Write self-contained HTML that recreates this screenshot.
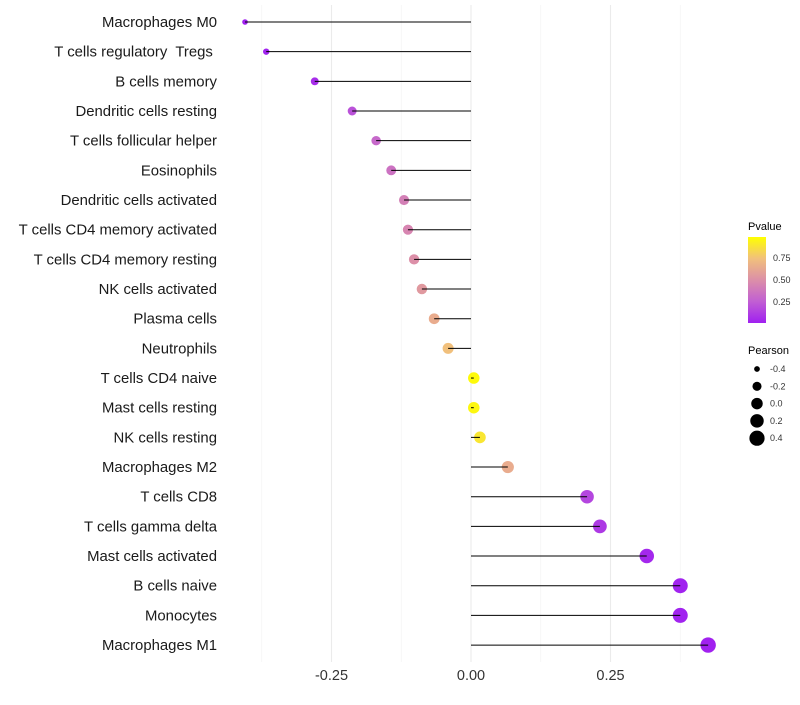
<!DOCTYPE html>
<html><head><meta charset="utf-8"><style>
body{margin:0;background:#fff;font-family:"Liberation Sans",sans-serif}
svg text{font-family:"Liberation Sans",sans-serif;white-space:pre}
</style></head><body>
<svg id="chart" width="800" height="700">
<defs><linearGradient id="pg" x1="0" y1="1" x2="0" y2="0">
<stop offset="0" stop-color="#A020F0"/><stop offset="0.25" stop-color="#C15FD3"/><stop offset="0.5" stop-color="#DC8FA8"/><stop offset="0.75" stop-color="#F1C07C"/><stop offset="1" stop-color="#FFFF00"/></linearGradient></defs>
<g id="grid"></g><g id="marks"></g><g id="labels"></g>
<g>
<text x="748" y="230" font-size="11">Pvalue</text>
<rect x="748" y="237" width="18" height="86" fill="url(#pg)"/>
<text x="773" y="261" font-size="9" fill="#333">0.75</text>
<text x="773" y="283" font-size="9" fill="#333">0.50</text>
<text x="773" y="305" font-size="9" fill="#333">0.25</text>
</g>
<g id="sizeleg">
<text x="748" y="354" font-size="11">Pearson</text>
</g>
</svg>
<script>
const categories=["Macrophages M0","T cells regulatory  Tregs ","B cells memory","Dendritic cells resting","T cells follicular helper","Eosinophils","Dendritic cells activated","T cells CD4 memory activated","T cells CD4 memory resting","NK cells activated","Plasma cells","Neutrophils","T cells CD4 naive","Mast cells resting","NK cells resting","Macrophages M2","T cells CD8","T cells gamma delta","Mast cells activated","B cells naive","Monocytes","Macrophages M1"];
const pearson=[-0.405,-0.367,-0.280,-0.213,-0.170,-0.143,-0.120,-0.113,-0.102,-0.088,-0.066,-0.041,0.005,0.005,0.016,0.066,0.208,0.231,0.315,0.375,0.375,0.425];
const pvalue=[0.001,0.01,0.05,0.2,0.3,0.35,0.42,0.45,0.5,0.55,0.65,0.75,0.98,0.97,0.9,0.65,0.15,0.1,0.03,0.01,0.01,0.005];
const xTicks=[-0.25,0,0.25];
const xTickLabels=["-0.25","0.00","0.25"];
const sizeLegend=[-0.4,-0.2,0.0,0.2,0.4];
const NS="http://www.w3.org/2000/svg";
const X=v=>471+v*558, Y=i=>22+i*29.67;
const R=v=>Math.sqrt(Math.max(3,33+62*v));
function col(p){const s=[[0,[160,32,240]],[0.25,[193,95,211]],[0.5,[220,143,168]],[0.75,[241,192,124]],[1,[255,255,0]]];
for(let k=0;k<4;k++){if(p<=s[k+1][0]){const t=(p-s[k][0])/(s[k+1][0]-s[k][0]);const c=s[k][1].map((a,j)=>Math.round(a+(s[k+1][1][j]-a)*t));return `rgb(${c})`;}}return "rgb(255,255,0)";}
function mk(tag,at,par){const e=document.createElementNS(NS,tag);for(const k in at)e.setAttribute(k,at[k]);par.appendChild(e);return e;}
const grid=document.getElementById('grid'),marks=document.getElementById('marks'),labels=document.getElementById('labels');
[-0.375,-0.125,0.125,0.375].forEach(v=>{const l=mk('line',{x1:X(v),x2:X(v),y1:5,y2:662,stroke:'#f2f2f2','stroke-width':0.6},grid);

});
xTicks.forEach((v,i)=>{const l=mk('line',{x1:X(v),x2:X(v),y1:5,y2:662,stroke:'#ebebeb','stroke-width':1.1},grid);


const t=mk('text',{x:X(v),y:680,'font-size':14.5,'text-anchor':'middle',fill:'#333'},labels);t.textContent=xTickLabels[i];

});
categories.forEach((c,i)=>{const y=Y(i);
const t=mk('text',{x:217,y:y+5,'font-size':14.9,'text-anchor':'end',fill:'#1a1a1a'},labels);t.textContent=c;


const p=mk('circle',{cx:X(pearson[i]),cy:y,r:R(pearson[i]),fill:col(pvalue[i])},marks);


const s=mk('line',{x1:X(0),x2:X(pearson[i]),y1:y,y2:y,stroke:'#000','stroke-width':1},marks);

});
const sl=document.getElementById('sizeleg');
sizeLegend.forEach((v,i)=>{const y=369+i*17.3;
const c=mk('circle',{cx:757,cy:y,r:R(v),fill:'#000'},sl);


const t=mk('text',{x:770,y:y+3,'font-size':9,fill:'#333'},sl);t.textContent=v.toFixed(1);

});
</script>
</body></html>
